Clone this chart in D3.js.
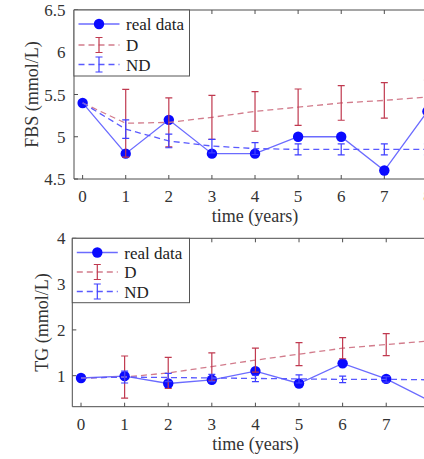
<!DOCTYPE html>
<html>
<head>
<meta charset="utf-8">
<script src="https://cdn.jsdelivr.net/npm/d3@7"></script>
<style>
  html, body { margin: 0; padding: 0; background: #fff; overflow: hidden; }
  svg { display: block; font-family: "Liberation Serif", "Times New Roman", serif; }
</style>
</head>
<body>
<svg id="chart" width="424" height="459"></svg>
<script>
// Follow-up years
const years = [0, 1, 2, 3, 4, 5, 6, 7, 8];
const xTicks = [0, 1, 2, 3, 4, 5, 6, 7, 8];

// Fasting blood sugar (mmol/L)
const fbsReal  = [5.4, 4.8, 5.2, 4.8, 4.8, 5.0, 5.0, 4.6, 5.3];
const fbsD     = [5.4, 5.16, 5.17, 5.23, 5.30, 5.35, 5.40, 5.43, 5.47];
const fbsDErr  = [0, 0.40, 0.29, 0.26, 0.235, 0.215, 0.205, 0.21, 0.20];
const fbsND    = [5.4, 5.09, 4.95, 4.89, 4.86, 4.85, 4.85, 4.85, 4.85];
const fbsNDErr = [0, 0.11, 0.08, 0.08, 0.07, 0.065, 0.065, 0.065, 0.065];
const fbsTicks = [4.5, 5, 5.5, 6, 6.5];

// Triglycerides (mmol/L)
const tgReal  = [0.95, 0.99, 0.83, 0.91, 1.10, 0.83, 1.27, 0.93, 0.45];
const tgD     = [0.95, 0.97, 1.06, 1.20, 1.34, 1.47, 1.60, 1.68, 1.76];
const tgDErr  = [0, 0.46, 0.34, 0.30, 0.26, 0.25, 0.23, 0.24, 0.23];
const tgND    = [0.95, 0.97, 0.96, 0.95, 0.94, 0.93, 0.92, 0.92, 0.91];
const tgNDErr = [0, 0.13, 0.09, 0.08, 0.07, 0.09, 0.07, 0.06, 0.06];
const tgTicks = [1, 2, 3, 4];

const legendNames = ["real data", "D", "ND"];

const colors = {
  axis: "#4d4d4d",
  realLine: "#6b6bff",
  realDot: "#0a0aff",
  dLine: "#d27c8c",
  dBar: "#c0394f",
  ndLine: "#5a5aff",
  ndBar: "#3f3fff"
};

const svg = d3.select("#chart");

function drawPanel(cfg) {
  const x = d3.scaleLinear().domain([-0.2, 8.2]).range([cfg.left, cfg.left + 8.4 * cfg.unit]);
  const y = d3.scaleLinear().domain(cfg.yDomain).range([cfg.bottom, cfg.top]);
  const g = svg.append("g");

  // frame: left, bottom and top edges (right edge lies beyond the viewport)
  const right = x.range()[1];
  g.append("path")
    .attr("d", `M${right},${cfg.top}H${cfg.left}V${cfg.bottom}H${right}`)
    .attr("fill", "none").attr("stroke", colors.axis).attr("stroke-width", 1);

  // inward ticks
  const tk = 4;
  xTicks.forEach(t => {
    g.append("line").attr("x1", x(t)).attr("x2", x(t)).attr("y1", cfg.bottom).attr("y2", cfg.bottom - tk)
      .attr("stroke", colors.axis);
    g.append("line").attr("x1", x(t)).attr("x2", x(t)).attr("y1", cfg.top).attr("y2", cfg.top + tk)
      .attr("stroke", colors.axis);
    g.append("text").attr("x", x(t)).attr("y", cfg.bottom + 23)
      .attr("text-anchor", "middle").attr("font-size", 17).attr("fill", "#333")
      .text(d3.format("d")(t));
  });
  cfg.yTicks.forEach(t => {
    g.append("line").attr("x1", cfg.left).attr("x2", cfg.left + tk).attr("y1", y(t)).attr("y2", y(t))
      .attr("stroke", colors.axis);
    g.append("text").attr("x", cfg.yLabelRight).attr("y", y(t) + 6)
      .attr("text-anchor", "end").attr("font-size", 17).attr("fill", "#333")
      .text(t);
  });

  g.append("text").attr("x", x(4)).attr("y", cfg.bottom + 43)
    .attr("text-anchor", "middle").attr("font-size", 18).attr("fill", "#333")
    .text("time (years)");
  g.append("text")
    .attr("transform", `translate(${cfg.yTitleX},${(cfg.top + cfg.bottom) / 2}) rotate(-90)`)
    .attr("text-anchor", "middle").attr("font-size", 18).attr("fill", "#333")
    .text(cfg.yTitle);

  const line = d3.line().x((d, i) => x(years[i])).y(d => y(d));

  // measured values
  g.append("path").datum(cfg.real).attr("d", line)
    .attr("fill", "none").attr("stroke", colors.realLine).attr("stroke-width", 1.3);
  g.selectAll(null).data(cfg.real).join("circle")
    .attr("cx", (d, i) => x(years[i])).attr("cy", d => y(d)).attr("r", 5.2)
    .attr("fill", colors.realDot);

  // model trajectories with error bars
  function errorSeries(vals, errs, lineColor, barColor) {
    g.append("path").datum(vals).attr("d", line)
      .attr("fill", "none").attr("stroke", lineColor).attr("stroke-width", 1.3)
      .attr("stroke-dasharray", "6,4");
    vals.forEach((v, i) => {
      if (errs[i] <= 0) return;
      const cx = x(years[i]), y1 = y(v - errs[i]), y2 = y(v + errs[i]);
      const cw = 3.5;
      g.append("path")
        .attr("d", `M${cx},${y1}V${y2}M${cx - cw},${y1}H${cx + cw}M${cx - cw},${y2}H${cx + cw}`)
        .attr("fill", "none").attr("stroke", barColor).attr("stroke-width", 1.2);
    });
  }
  errorSeries(cfg.d, cfg.dErr, colors.dLine, colors.dBar);
  errorSeries(cfg.nd, cfg.ndErr, colors.ndLine, colors.ndBar);

  // legend
  const lg = g.append("g");
  lg.append("rect").attr("x", cfg.left).attr("y", cfg.top)
    .attr("width", cfg.legendRight - cfg.left).attr("height", cfg.legendBottom - cfg.top)
    .attr("fill", "#fff").attr("stroke", "#555").attr("stroke-width", 1);
  const sx1 = cfg.left + 4.5, sx2 = cfg.left + 45.5, sm = (sx1 + sx2) / 2;
  const tx = cfg.left + 52;
  cfg.legendRows.forEach((ry, k) => {
    if (k === 0) {
      lg.append("line").attr("x1", sx1).attr("x2", sx2).attr("y1", ry).attr("y2", ry)
        .attr("stroke", colors.realLine).attr("stroke-width", 1.3);
      lg.append("circle").attr("cx", sm).attr("cy", ry).attr("r", 5.2).attr("fill", colors.realDot);
    } else {
      const lc = k === 1 ? colors.dLine : colors.ndLine;
      const bc = k === 1 ? colors.dBar : colors.ndBar;
      lg.append("line").attr("x1", sx1).attr("x2", sx2).attr("y1", ry).attr("y2", ry)
        .attr("stroke", lc).attr("stroke-width", 1.3).attr("stroke-dasharray", "6,4");
      lg.append("path")
        .attr("d", `M${sm},${ry - 7.5}V${ry + 7.5}M${sm - 3.5},${ry - 7.5}H${sm + 3.5}M${sm - 3.5},${ry + 7.5}H${sm + 3.5}`)
        .attr("fill", "none").attr("stroke", bc).attr("stroke-width", 1.2);
    }
    lg.append("text").attr("x", tx).attr("y", ry + 6).attr("font-size", 17).attr("fill", "#222")
      .text(legendNames[k]);
  });
}

drawPanel({
  left: 74, unit: 43.1, top: 10, bottom: 179,
  yDomain: [4.5, 6.5], yTicks: fbsTicks, yLabelRight: 65.5, yTitleX: 38, yTitle: "FBS (mmol/L)",
  real: fbsReal, d: fbsD, dErr: fbsDErr, nd: fbsND, ndErr: fbsNDErr,
  legendRight: 189.5, legendBottom: 76, legendRows: [24, 45, 64.5]
});

drawPanel({
  left: 72.3, unit: 43.6, top: 238.3, bottom: 406.7,
  yDomain: [0.323, 4], yTicks: tgTicks, yLabelRight: 65.5, yTitleX: 48, yTitle: "TG (mmol/L)",
  real: tgReal, d: tgD, dErr: tgDErr, nd: tgND, ndErr: tgNDErr,
  legendRight: 189.5, legendBottom: 302.7, legendRows: [252.5, 272, 291.5]
});
</script>
</body>
</html>
